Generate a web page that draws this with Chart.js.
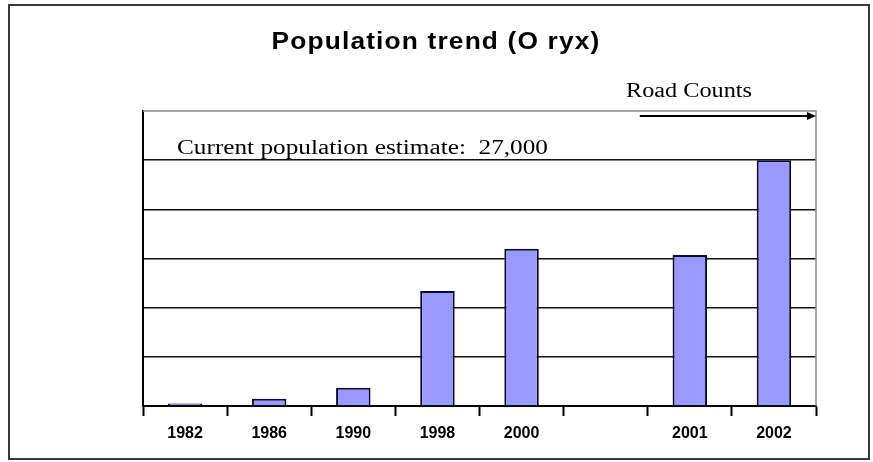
<!DOCTYPE html>
<html lang="en">
<head>
    <meta charset="UTF-8">
    <title>Population trend (Oryx)</title>
    <script src="https://cdn.jsdelivr.net/npm/chart.js@4.4.0/dist/chart.umd.min.js"></script>
    <style>
        body { margin: 0; background: #fff; }
        #wrap { width: 873px; height: 462px; }
    </style>
</head>
<body>
<div id="wrap"><canvas id="oryxChart" width="873" height="462"></canvas></div>
<script>
    // survey years (blank slot separates aerial from road counts)
    const years = ['1982', '1986', '1990', '1998', '2000', '', '2001', '2002'];
    const counts = [250, 730, 1850, 11700, 16000, null, 15350, 25000];
    const yMax = 30000;
    const yStep = 5000;

    const titleText = 'Population trend (O ryx)';
    const roadText = 'Road Counts';
    const estimateText = 'Current population estimate:  27,000';

    // draw text stretched sideways to a given width (old excel export looks wide)
    function fitText(ctx, txt, x, y, width, align, spacing) {
        ctx.letterSpacing = (spacing || 0) + 'px';
        const w = ctx.measureText(txt).width;
        const sx = width / w;
        const x0 = align === 'center' ? x - width / 2 : x;
        ctx.save();
        ctx.translate(x0, y);
        ctx.scale(sx, 1);
        ctx.textAlign = 'left';
        ctx.fillText(txt, 0, 0);
        ctx.restore();
        ctx.letterSpacing = '0px';
    }

    const decorations = {
        id: 'decorations',
        afterDraw(chart) {
            const ctx = chart.ctx;
            const a = chart.chartArea;
            const xs = chart.scales.x;
            ctx.save();

            // plot area border (top + right)
            ctx.strokeStyle = '#8a8a8a';
            ctx.lineWidth = 1.5;
            ctx.beginPath();
            ctx.moveTo(a.left, a.top);
            ctx.lineTo(a.right, a.top);
            ctx.lineTo(a.right, a.bottom);
            ctx.stroke();

            // outer frame
            ctx.strokeStyle = '#3a3a3a';
            ctx.lineWidth = 2;
            ctx.strokeRect(9, 5, 860, 454);

            ctx.fillStyle = '#000';
            ctx.textBaseline = 'middle';

            // title
            ctx.font = 'bold 23px "Liberation Sans", Arial, sans-serif';
            fitText(ctx, titleText, 436, 43, 329, 'center', 1);

            // road counts label + arrow
            ctx.font = '20px "Liberation Serif", "Times New Roman", serif';
            fitText(ctx, roadText, 626, 92, 126, 'left');

            const x0 = xs.getPixelForValue(6) - 50;
            const yA = a.top + 5;
            ctx.strokeStyle = '#000';
            ctx.lineWidth = 2;
            ctx.beginPath();
            ctx.moveTo(x0, yA);
            ctx.lineTo(a.right - 6, yA);
            ctx.stroke();
            ctx.beginPath();
            ctx.moveTo(a.right, yA);
            ctx.lineTo(a.right - 9, yA - 4);
            ctx.lineTo(a.right - 9, yA + 4);
            ctx.closePath();
            ctx.fill();

            // estimate note
            ctx.font = '20px "Liberation Serif", "Times New Roman", serif';
            fitText(ctx, estimateText, 177, 149, 371, 'left');

            ctx.restore();
        }
    };

    const ctx = document.getElementById('oryxChart').getContext('2d');
    const oryxChart = new Chart(ctx, {
        type: 'bar',
        data: {
            labels: years,
            datasets: [{
                data: counts,
                backgroundColor: '#9999ff',
                borderColor: '#0a0a30',
                borderWidth: 2,
                borderSkipped: 'bottom',
                barPercentage: 0.41,
                categoryPercentage: 1
            }]
        },
        options: {
            responsive: false,
            animation: false,
            layout: { padding: { top: 111, left: 143, right: 57, bottom: 0 } },
            plugins: {
                legend: { display: false },
                title: { display: false },
                tooltip: { enabled: false }
            },
            scales: {
                x: {
                    offset: true,
                    afterFit: (s) => { s.height = 56; },
                    grid: {
                        offset: true,
                        drawOnChartArea: false,
                        drawTicks: true,
                        tickLength: 10,
                        tickWidth: 2,
                        tickColor: '#000'
                    },
                    border: { display: true, color: '#000', width: 2 },
                    ticks: {
                        color: '#000',
                        padding: 8,
                        maxRotation: 0,
                        font: { family: '"Liberation Sans", Arial, sans-serif', size: 16, weight: 'bold' }
                    }
                },
                y: {
                    min: 0,
                    max: yMax,
                    afterFit: (s) => { s.width = 0; },
                    ticks: { display: false, stepSize: yStep },
                    grid: {
                        drawTicks: false,
                        color: (c) => c.tick && c.tick.value === yMax ? 'rgba(0,0,0,0)' : '#111',
                        lineWidth: 1.5
                    },
                    border: { display: true, color: '#000', width: 2 }
                }
            }
        },
        plugins: [decorations]
    });
</script>
</body>
</html>
